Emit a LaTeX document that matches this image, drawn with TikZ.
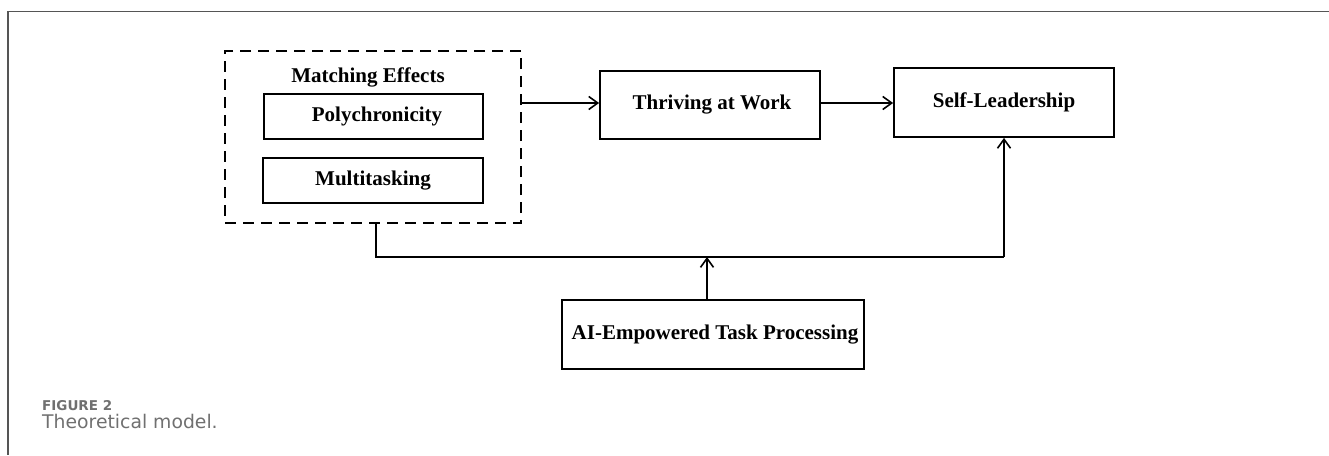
\documentclass[tikz,border=0pt]{standalone}
\usepackage{fontspec}
\setmainfont{Liberation Serif}
\newfontfamily\capfont{DejaVu Sans}
\usetikzlibrary{arrows.meta}
\definecolor{framegray}{HTML}{555555}
\definecolor{captiongray}{HTML}{707070}
\tikzset{
  label font/.style={font=\fontsize{21}{25}\selectfont\bfseries},
  varbox/.style={draw, line width=1.8pt, inner sep=0pt, label font},
  groupbox/.style={draw, line width=2.4pt, dash pattern=on 11pt off 7pt, inner sep=0pt},
  link/.style={line width=1.8pt, -{Straight Barb[length=9pt,width=13pt,line width=1.6pt]}},
  plainlink/.style={line width=1.8pt},
  frameline/.style={draw=framegray, line width=1.6pt},
  figlabel/.style={anchor=base west, inner sep=0pt, text=captiongray,
    font=\fontsize{13.5}{16}\selectfont\capfont\bfseries},
  figcaption/.style={anchor=base west, inner sep=0pt, text=captiongray,
    font=\fontsize{18.8}{22}\selectfont\capfont},
}
\begin{document}
\begin{tikzpicture}[x=1pt,y=-1pt]
\useasboundingbox (0,0) rectangle (1329,455);

% figure frame: top and left rules
\coordinate (ftl) at (8,11.5);
\coordinate (ftr) at (1329,11.5);
\coordinate (fbl) at (8,455);
\draw[frameline] (ftr) -- (ftl) -- (fbl);

% matching-effects group
\node[groupbox, minimum width=296pt, minimum height=172pt] (group) at (373,137) {};
\node[label font, anchor=base] (gtitle) at (368,82) {Matching Effects};
\node[varbox, minimum width=219pt, minimum height=45pt] (poly) at (373.5,116.5) {\hspace*{7pt}Polychronicity};
\node[varbox, minimum width=220pt, minimum height=45pt] (multi) at (373,180.5) {Multitasking};

% mediator, outcome, moderator
\node[varbox, minimum width=220pt, minimum height=68pt] (thrive) at (710,105) {\hspace*{4pt}Thriving at Work};
\node[varbox, minimum width=220pt, minimum height=69pt] (self) at (1004,102.5) {Self-Leadership};
\node[varbox, minimum width=302pt, minimum height=69pt] (ai) at (713,334.5) {\hspace*{4pt}AI-Empowered Task Processing};

% main path
\draw[link] (group.east |- 0,103) -- (thrive.west |- 0,103);
\draw[link] (thrive.east |- 0,103) -- (self.west |- 0,103);

% direct path along the bottom
\coordinate (jl) at (376,257);
\coordinate (jm) at (707,257);
\coordinate (jr) at (self.south |- jl);
\draw[plainlink] (group.south -| jl) -- (jl) -- (jr);
\draw[link] (jr) -- (self.south);

% moderation arrow
\draw[link] (ai.north -| jm) -- (jm);

% caption
\node[figlabel] (fig) at (42,410) {FIGURE 2};
\node[figcaption] (cap) at (42,428) {Theoretical model.};
\end{tikzpicture}
\end{document}
